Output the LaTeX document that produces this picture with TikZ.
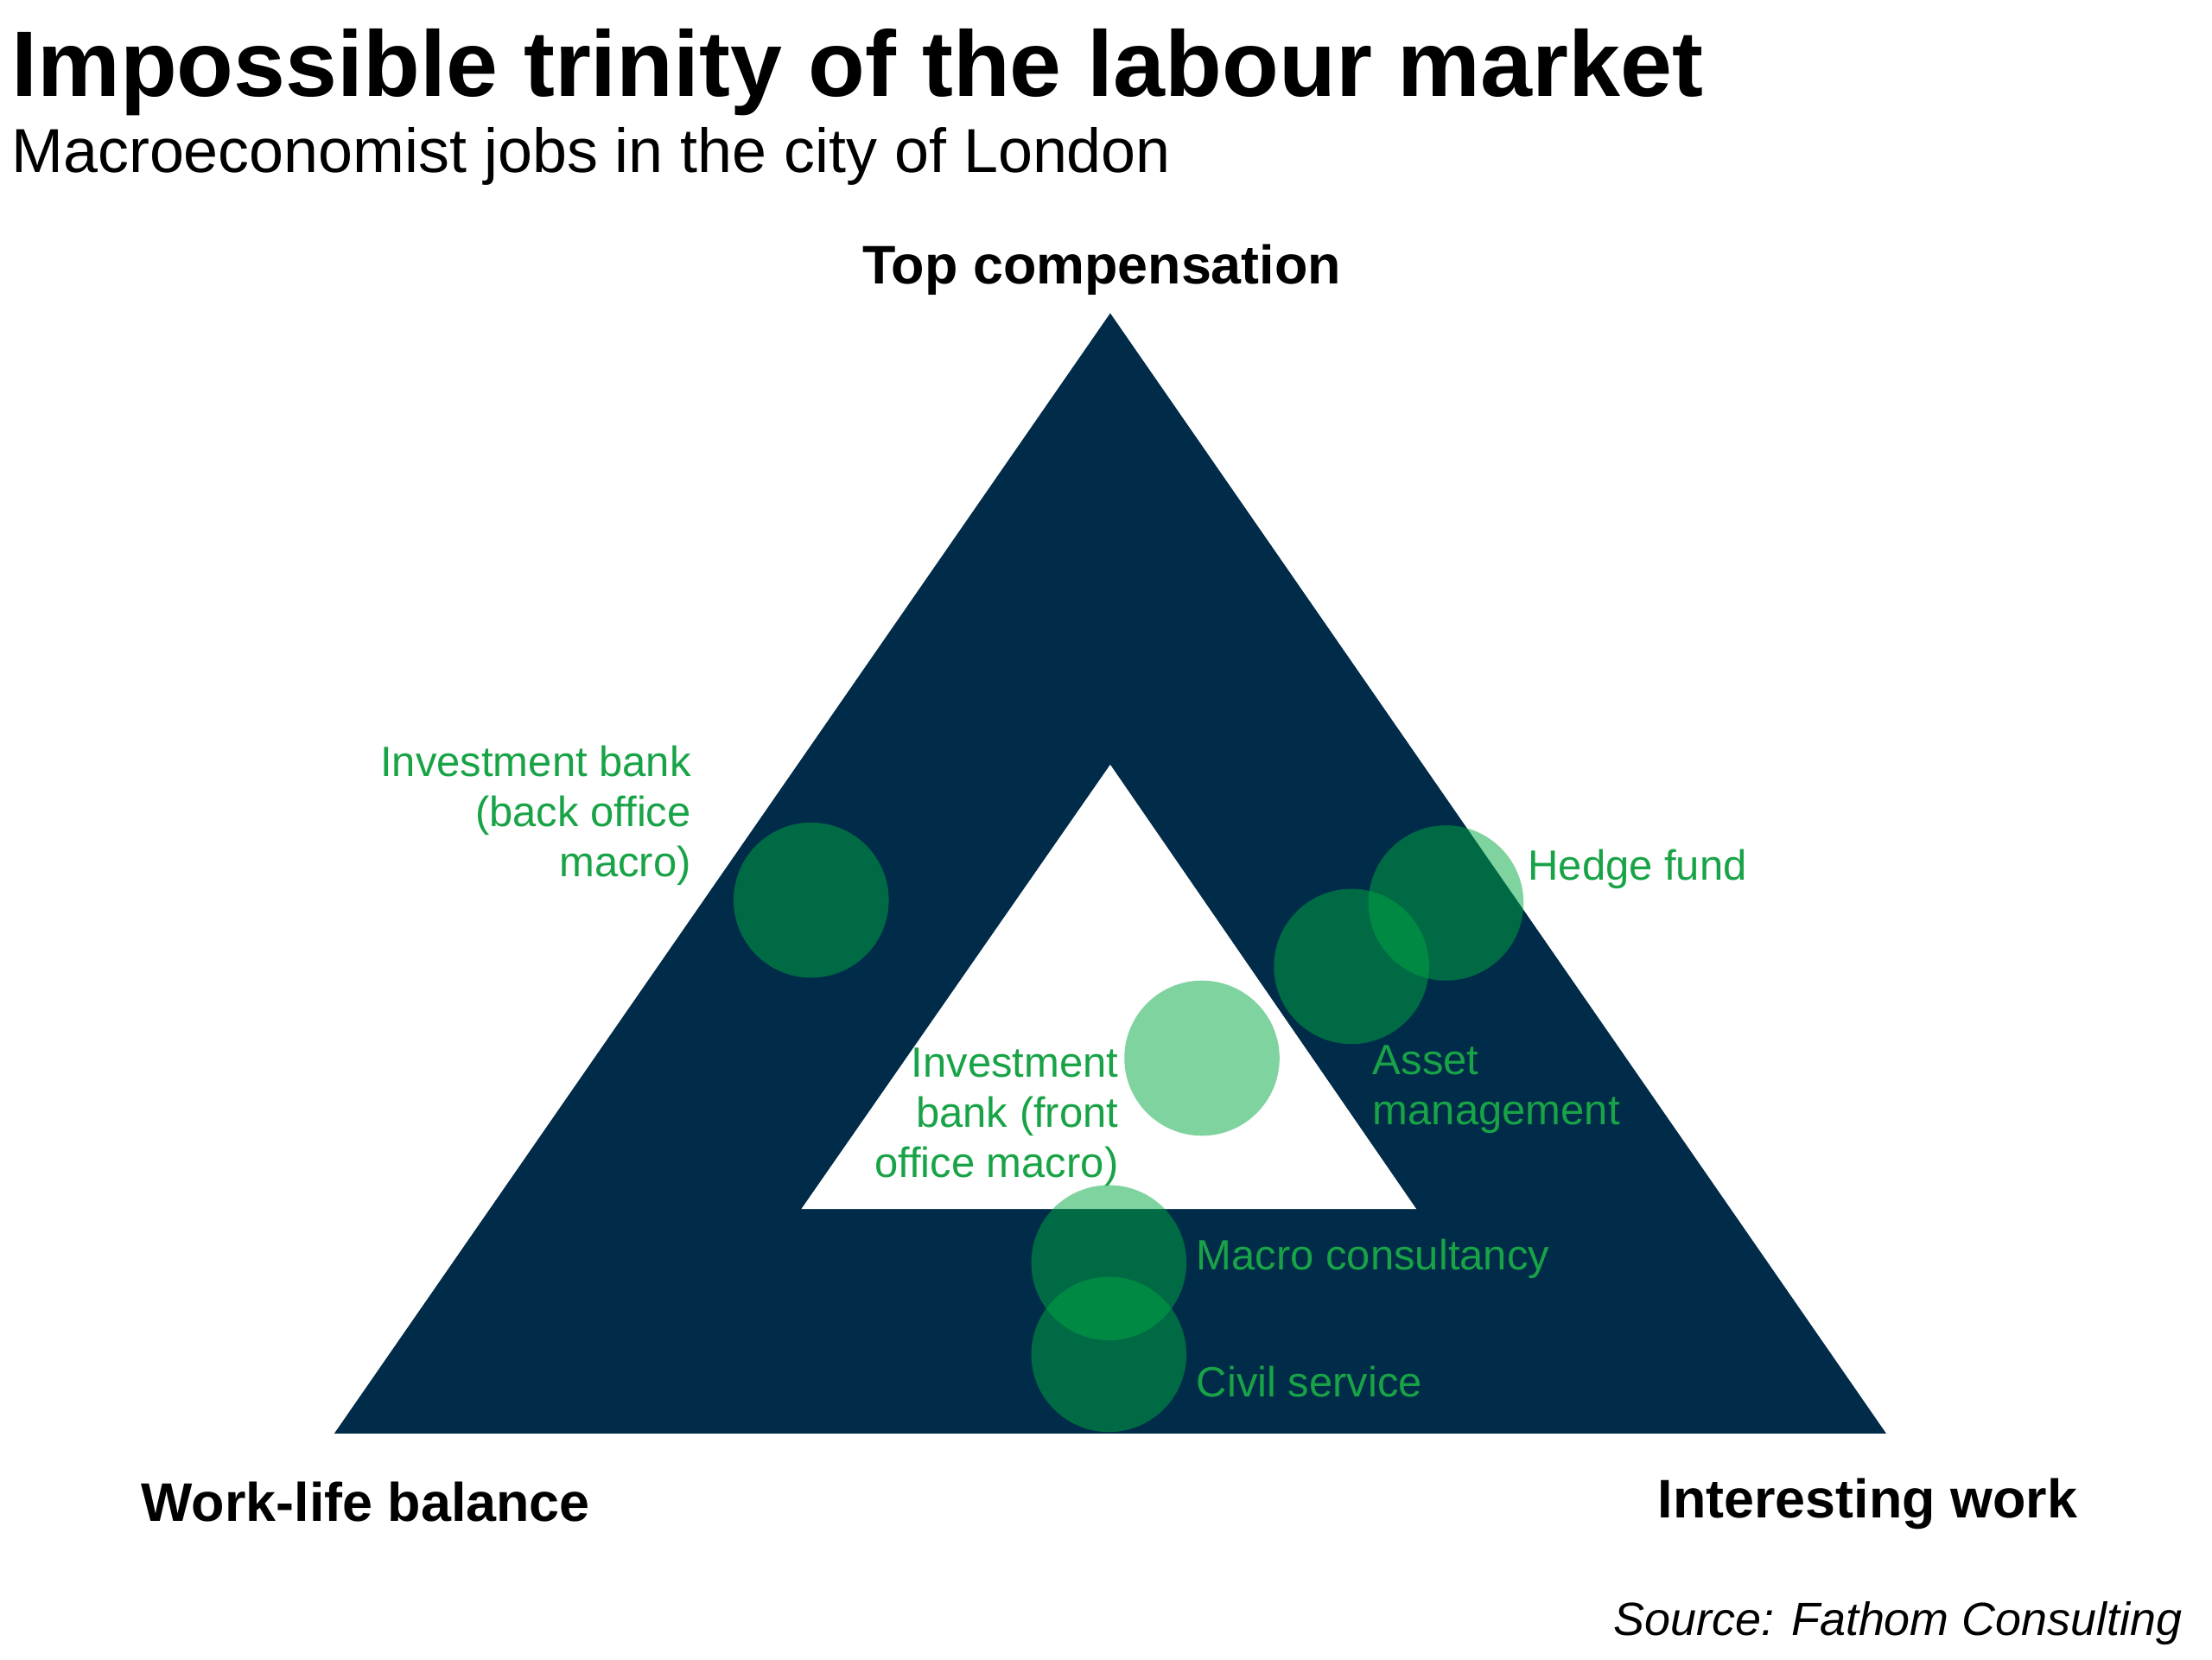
\documentclass[tikz,border=0pt]{standalone}
\usepackage{fontspec}
\setmainfont{Liberation Sans}
\definecolor{navy}{HTML}{002B49}
\definecolor{lgreen}{HTML}{01A941}
\definecolor{tgreen}{HTML}{19A347}
\begin{document}
\begin{tikzpicture}[x=1pt,y=-1pt,
  job/.style={circle,fill=lgreen,fill opacity=0.5,minimum size=110pt,inner sep=0pt,draw=none},
  lbl/.style={text=tgreen,inner sep=0pt,font=\fontsize{30}{35.5}\selectfont},
  corner/.style={inner sep=0pt,font=\fontsize{38.5}{44}\selectfont\bfseries}]
\useasboundingbox[fill=white] (0,0) rectangle (1568,1176);
% title
\node[anchor=base west,inner sep=0pt,font=\fontsize{66}{70}\selectfont\bfseries] (title) at (8,68) {Impossible trinity of the labour market};
\node[anchor=base west,inner sep=0pt,font=\fontsize{44}{50}\selectfont] (subtitle) at (8,122) {Macroeconomist jobs in the city of London};
% triangles
\coordinate (oT) at (787,222);
\coordinate (oL) at (237,1016);
\coordinate (oR) at (1337,1016);
\coordinate (iT) at (787,542);
\coordinate (iL) at (568,857);
\coordinate (iR) at (1004,857);
\fill[navy] (oT) -- (oL) -- (oR) -- cycle;
\fill[white] (iT) -- (iL) -- (iR) -- cycle;
% circles
\node[job] (backoffice) at (575,638) {};
\node[job] (hedge) at (1025,640) {};
\node[job] (asset) at (958,685) {};
\node[job] (front) at (852,750) {};
\node[job] (macro) at (786,895) {};
\node[job] (civil) at (786,960) {};
% corner labels
\node[corner,anchor=base] (top) at (781,201) {Top compensation};
\node[corner,anchor=base west] (wlb) at (100,1078) {Work-life balance};
\node[corner,anchor=base west] (iw) at (1175,1076) {Interesting work};
% job labels
\node[lbl,anchor=east,align=right] (tbo) at (490,578) {Investment bank\\(back office\\macro)};
\node[lbl,anchor=base west] (thf) at (1083,624) {Hedge fund};
\node[lbl,anchor=west,align=left] (tam) at (973,772) {Asset\\management};
\node[lbl,anchor=east,align=right] (tfo) at (793,792) {Investment\\bank (front\\office macro)};
\node[lbl,anchor=base west] (tmc) at (848,900) {Macro consultancy};
\node[lbl,anchor=base west] (tcs) at (848,990) {Civil service};
% source
\node[anchor=base east,inner sep=0pt,font=\fontsize{33}{38}\selectfont\itshape] (src) at (1547,1159) {Source: Fathom Consulting};
\end{tikzpicture}
\end{document}
